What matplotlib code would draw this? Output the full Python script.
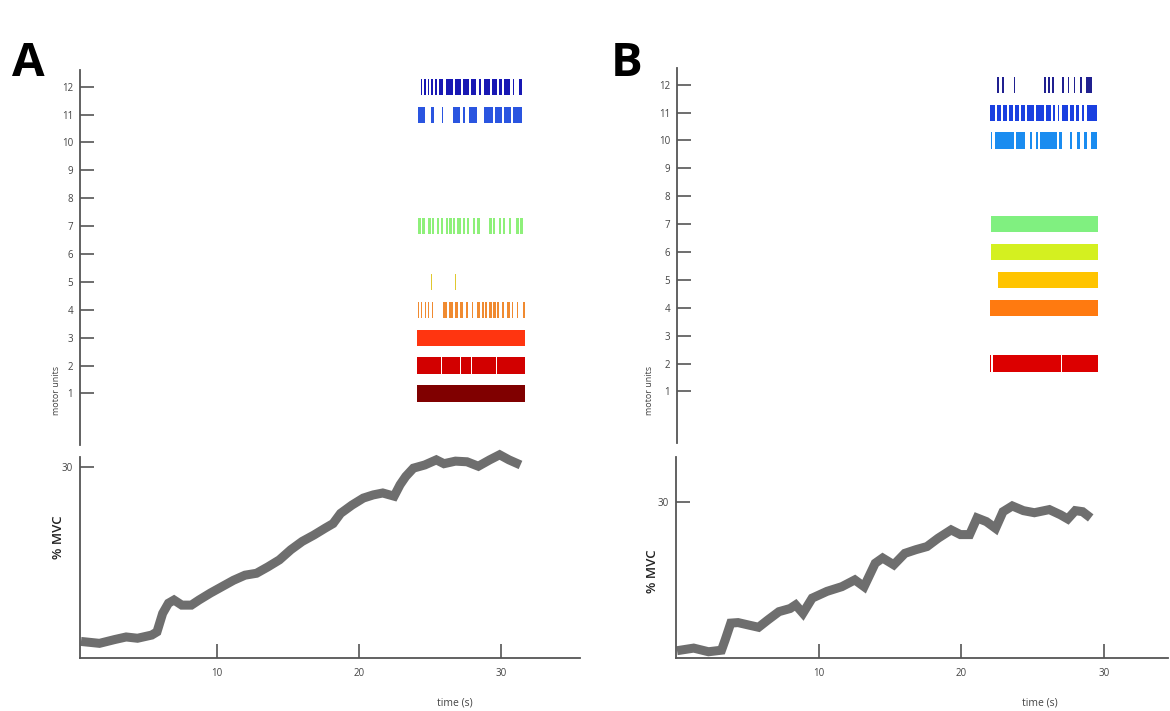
import matplotlib
matplotlib.use("Agg")
import matplotlib.pyplot as plt

plt.rcParams['font.family'] = ['Open Sans', 'DejaVu Sans']

# ---- panel A: motor unit firing intervals (s), one list per unit ----
a_units = [1, 2, 3, 4, 5, 7, 11, 12]
a_colors = ['#800000', '#d20000', '#ff3510', '#f08a30', '#e0c830', '#8ef07a', '#2a55e0', '#1818b4']
a_firing = [
    [(24.1, 31.7)],
    [(24.1, 25.8), (25.86, 27.1), (27.16, 27.9), (27.96, 29.62), (29.68, 31.7)],
    [(24.1, 31.7)],
    [(24.14, 24.22), (24.37, 24.45), (24.61, 24.69), (24.84, 24.92), (25.12, 25.23),
     (25.94, 26.22), (26.36, 26.59), (26.76, 26.99), (27.11, 27.35), (27.53, 27.7),
     (27.93, 28.05), (28.28, 28.52), (28.64, 28.8), (28.87, 29.04), (29.18, 29.34),
     (29.46, 29.65), (29.74, 29.88), (30.04, 30.21), (30.4, 30.63), (30.75, 30.87),
     (31.1, 31.22), (31.57, 31.69)],
    [(25.04, 25.16), (26.74, 26.86)],
    [(24.18, 24.34), (24.43, 24.62), (24.88, 25.05), (25.14, 25.28), (25.51, 25.66),
     (25.75, 25.89), (26.12, 26.27), (26.36, 26.55), (26.64, 26.78), (26.88, 27.16),
     (27.35, 27.49), (27.58, 27.77), (28.0, 28.19), (28.28, 28.52), (29.18, 29.36),
     (29.46, 29.6), (29.83, 30.02), (30.11, 30.26), (30.54, 30.72), (31.05, 31.24),
     (31.33, 31.52)],
    [(24.14, 24.65), (25.05, 25.28), (25.84, 25.94), (26.64, 27.11), (27.35, 27.44),
     (27.72, 28.28), (28.8, 29.46), (29.6, 30.07), (30.21, 30.72), (30.87, 31.5)],
    [(24.36, 24.46), (24.6, 24.69), (24.83, 24.93), (25.05, 25.23), (25.33, 25.47),
     (25.61, 25.94), (26.12, 26.64), (26.74, 27.16), (27.35, 27.77), (27.86, 28.24),
     (28.42, 28.61), (28.8, 29.22), (29.36, 29.74), (29.88, 30.07), (30.21, 30.63),
     (30.82, 30.91), (31.24, 31.5)],
]

# ---- panel B ----
b_units = [2, 4, 5, 6, 7, 10, 11, 12]
b_colors = ['#dc0000', '#ff7a10', '#ffc400', '#d4f020', '#80f080', '#1a8cf0', '#1a40e0', '#202090']
b_firing = [
    [(21.96, 22.04), (22.2, 27.0), (27.05, 28.08), (28.14, 29.55)],
    [(22.0, 29.55)],
    [(22.55, 29.55)],
    [(22.05, 29.55)],
    [(22.05, 29.55)],
    [(22.07, 22.16), (22.35, 23.66), (23.8, 24.48), (24.78, 24.92), (25.2, 25.34),
     (25.53, 26.7), (26.84, 27.02), (27.63, 27.77), (28.1, 28.33), (28.61, 28.8),
     (29.08, 29.5)],
    [(22.02, 22.37), (22.49, 22.77), (22.91, 23.19), (23.33, 23.61), (23.75, 24.03),
     (24.17, 24.45), (24.59, 25.06), (25.2, 25.76), (25.9, 26.28), (26.42, 26.56),
     (26.74, 26.84), (27.07, 27.45), (27.59, 27.87), (28.01, 28.24), (28.43, 28.61),
     (28.8, 29.5)],
    [(22.49, 22.61), (22.84, 22.96), (23.66, 23.75), (25.76, 25.9), (26.07, 26.18),
     (26.35, 26.46), (27.05, 27.17), (27.45, 27.54), (27.87, 27.98), (28.33, 28.45),
     (28.75, 29.15)],
]

# ---- force traces (% MVC) ----
a_time = [0.42, 1.72, 2.8, 3.6, 4.4, 5.4, 5.77, 6.17, 6.58, 6.97, 7.52, 8.19, 8.73,
          9.54, 10.35, 11.16, 11.97, 12.78, 13.58, 14.39, 15.2, 16.0, 16.82, 17.63,
          18.17, 18.7, 19.5, 20.3, 21.0, 21.67, 22.47, 22.89, 23.29, 23.83, 24.63,
          25.44, 25.98, 26.79, 27.6, 28.4, 29.2, 29.9, 30.56, 31.37]
a_force = [2.6, 2.3, 2.9, 3.3, 3.1, 3.6, 4.1, 7.0, 8.6, 9.1, 8.3, 8.3, 9.1,
           10.2, 11.2, 12.2, 13.0, 13.3, 14.3, 15.4, 17.0, 18.3, 19.3, 20.4,
           21.1, 22.7, 24.0, 25.1, 25.6, 25.9, 25.4, 27.2, 28.5, 29.8, 30.3,
           31.1, 30.5, 30.9, 30.8, 30.1, 31.1, 31.9, 31.1, 30.3]

b_time = [0.07, 1.24, 2.28, 3.19, 3.45, 3.84, 4.35, 5.14, 5.79, 6.44, 7.22, 8.0,
          8.39, 8.9, 9.55, 10.59, 11.63, 12.54, 13.19, 13.97, 14.49, 15.27, 16.05,
          16.82, 17.6, 18.38, 19.29, 19.94, 20.59, 21.11, 21.76, 22.41, 22.93,
          23.58, 24.36, 25.13, 26.18, 26.96, 27.47, 28.0, 28.51, 29.08]
b_force = [1.4, 1.9, 1.2, 1.5, 3.5, 6.7, 6.8, 6.3, 5.9, 7.3, 8.9, 9.5,
           10.2, 8.6, 11.5, 12.8, 13.7, 15.0, 13.7, 18.2, 19.2, 17.9, 20.1,
           20.8, 21.4, 23.0, 24.6, 23.7, 23.7, 26.9, 26.2, 24.9, 28.1,
           29.2, 28.3, 27.9, 28.5, 27.5, 26.7, 28.3, 28.1, 26.9]

xticks = [10, 20, 30]
unit_ticks = list(range(1, 13))

W, H = 1170, 711
fig = plt.figure(figsize=(W / 100, H / 100), dpi=100)


def box(x0, y0, x1, y1):
    # pixel box (top-left origin) -> figure fraction rect
    return [x0 / W, 1 - y1 / H, (x1 - x0) / W, (y1 - y0) / H]


AX_COL = '#555555'
TXT_COL = '#444444'


def style(ax, bottom):
    for s in ['top', 'right']:
        ax.spines[s].set_visible(False)
    ax.spines['left'].set_color(AX_COL)
    ax.spines['left'].set_linewidth(1.3)
    if bottom:
        ax.spines['bottom'].set_color(AX_COL)
        ax.spines['bottom'].set_linewidth(1.3)
    else:
        ax.spines['bottom'].set_visible(False)
    ax.tick_params(direction='in', length=10, width=1.2, color=AX_COL,
                   labelsize=7, labelcolor=TXT_COL, pad=5)
    ax.tick_params(axis='x', pad=7)


def raster(ax, units, colors, firing, xlim):
    for u, c, segs in zip(units, colors, firing):
        ax.broken_barh([(s, e - s) for s, e in segs], (u - 0.29, 0.58),
                       facecolors=c, edgecolor='none')
    ax.set_xlim(*xlim)
    ax.set_ylim(-0.85, 12.6)
    ax.set_yticks(unit_ticks)
    ax.set_xticks([])
    style(ax, False)


def force(ax, t, f, xlim, ylim):
    ax.plot(t, f, color='#6e6e6e', lw=6.5, solid_capstyle='butt',
            solid_joinstyle='miter', clip_on=False)
    ax.set_xlim(*xlim)
    ax.set_ylim(*ylim)
    ax.set_yticks([30])
    ax.set_xticks(xticks)
    style(ax, True)


# panel A
axA = fig.add_axes(box(80, 70, 580, 445))
raster(axA, a_units, a_colors, a_firing, (0.35, 35.56))
axAf = fig.add_axes(box(80, 457, 580, 658))
force(axAf, a_time, a_force, (0.35, 35.56), (0, 31.55))

# panel B
axB = fig.add_axes(box(677, 68, 1168, 443))
raster(axB, b_units, b_colors, b_firing, (0, 34.5))
axBf = fig.add_axes(box(676, 457, 1168, 658))
force(axBf, b_time, b_force, (0, 34.5), (0, 38.6))

# labels
def ftxt(x, y, s, **kw):
    fig.text(x / W, 1 - y / H, s, **kw)

ftxt(28, 63, 'A', fontsize=34, fontweight='bold', ha='center', va='center', color='black')
ftxt(627, 63, 'B', fontsize=34, fontweight='bold', ha='center', va='center', color='black')

ftxt(56, 390, 'motor units', fontsize=6.5, rotation=90, ha='center', va='center', color=TXT_COL)
ftxt(649, 390, 'motor units', fontsize=6.5, rotation=90, ha='center', va='center', color=TXT_COL)

ftxt(58, 537, '% MVC', fontsize=9.5, fontweight='semibold', rotation=90, ha='center', va='center', color='#222222')
ftxt(653, 571, '% MVC', fontsize=9.5, fontweight='semibold', rotation=90, ha='center', va='center', color='#222222')

ftxt(455, 703, 'time (s)', fontsize=7.5, ha='center', va='center', color=TXT_COL)
ftxt(1040, 703, 'time (s)', fontsize=7.5, ha='center', va='center', color=TXT_COL)

fig.savefig('out.png', dpi=100, facecolor='white')
